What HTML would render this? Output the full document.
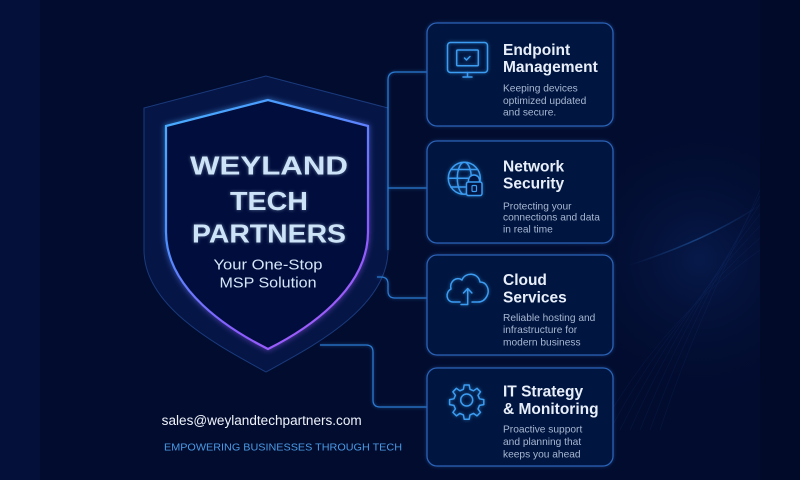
<!DOCTYPE html>
<html><head><meta charset="utf-8"><style>
html,body{margin:0;padding:0;background:#020b2e;}
svg{display:block;}
text{font-family:"Liberation Sans",Arial,sans-serif;}
</style></head><body>
<svg width="800" height="480" viewBox="0 0 800 480" xmlns="http://www.w3.org/2000/svg">
<defs>
  <filter id="glow" x="-30%" y="-30%" width="160%" height="160%">
    <feGaussianBlur stdDeviation="1.6" result="b"/>
    <feComponentTransfer in="b" result="b2"><feFuncA type="linear" slope="0.6"/></feComponentTransfer>
    <feMerge><feMergeNode in="b2"/><feMergeNode in="SourceGraphic"/></feMerge>
  </filter>
  <filter id="glowBig" x="-30%" y="-30%" width="160%" height="160%">
    <feGaussianBlur stdDeviation="3" result="b"/>
    <feComponentTransfer in="b" result="b2"><feFuncA type="linear" slope="0.8"/></feComponentTransfer>
    <feMerge><feMergeNode in="b2"/><feMergeNode in="SourceGraphic"/></feMerge>
  </filter>
  <filter id="tglow" x="-20%" y="-40%" width="140%" height="180%">
    <feGaussianBlur stdDeviation="1.8" result="b"/>
    <feComponentTransfer in="b" result="b2"><feFuncA type="linear" slope="0.45"/></feComponentTransfer>
    <feMerge><feMergeNode in="b2"/><feMergeNode in="SourceGraphic"/></feMerge>
  </filter>
  <linearGradient id="shg" x1="166" y1="100" x2="368" y2="349" gradientUnits="userSpaceOnUse">
    <stop offset="0" stop-color="#46b0ff"/>
    <stop offset="0.35" stop-color="#4f8fff"/>
    <stop offset="0.7" stop-color="#8a5cff"/>
    <stop offset="1" stop-color="#b05cf5"/>
  </linearGradient>
  <radialGradient id="wave" cx="700" cy="260" r="150" gradientUnits="userSpaceOnUse">
    <stop offset="0" stop-color="#0a2560" stop-opacity="0.55"/>
    <stop offset="1" stop-color="#020b2e" stop-opacity="0"/>
  </radialGradient>
  <linearGradient id="streak" x1="630" y1="270" x2="760" y2="200" gradientUnits="userSpaceOnUse">
    <stop offset="0" stop-color="#2a78d8" stop-opacity="0"/>
    <stop offset="0.5" stop-color="#3a8ef0" stop-opacity="0.35"/>
    <stop offset="1" stop-color="#2a78d8" stop-opacity="0"/>
  </linearGradient>
</defs>

<!-- background -->
<rect x="0" y="0" width="800" height="480" fill="#020c2f"/>
<rect x="0" y="0" width="40" height="480" fill="#041039"/>
<rect x="760" y="0" width="40" height="480" fill="#020a2a"/>
<rect x="560" y="120" width="200" height="300" fill="url(#wave)"/>
<g fill="none" stroke="#1d4c9c" stroke-width="0.5" opacity="0.22">
  <path d="M600 430 C640 360 690 300 760 250"/>
  <path d="M610 430 C650 355 700 290 760 238"/>
  <path d="M620 430 C660 350 705 282 760 226"/>
  <path d="M630 430 C668 345 712 275 760 214"/>
  <path d="M640 430 C676 340 718 268 760 204"/>
  <path d="M650 430 C684 336 724 262 760 196"/>
  <path d="M660 430 C692 332 730 258 760 190"/>
</g>
<path d="M630 265 C670 252 720 232 760 205" fill="none" stroke="url(#streak)" stroke-width="1.5"/>

<!-- outer shield -->
<path d="M266 76 L144 108 L144 250 C144 310 227 350 266 372 C305 350 388 310 388 250 L388 108 Z" fill="#051546" stroke="#1a3a7c" stroke-width="1"/>

<!-- connectors -->
<g fill="none" stroke="#2a7ad0" stroke-width="1.3" filter="url(#glow)">
  <path d="M388 250 L388 80 Q388 72 396 72 L427 72"/>
  <path d="M388 188 L427 188"/>
  <path d="M377 277 L381 277 Q388 277 388 284 L388 291 Q388 298 395 298 L427 298"/>
  <path d="M320 345 L366 345 Q373 345 373 352 L373 400 Q373 407 380 407 L427 407"/>
</g>

<!-- inner shield -->
<path d="M268 100 L166 126 L166 232 C166 290 230 330 268 349 C306 330 368 290 368 232 L368 126 Z" fill="#05113d" stroke="url(#shg)" stroke-width="2.2" filter="url(#glowBig)"/>

<!-- shield text -->
<g fill="#cde4f8" font-weight="bold" font-size="26" text-anchor="middle" filter="url(#tglow)">
  <text x="269" y="174.3" textLength="158" lengthAdjust="spacingAndGlyphs">WEYLAND</text>
  <text x="269" y="210" textLength="78" lengthAdjust="spacingAndGlyphs">TECH</text>
  <text x="269" y="242.7" textLength="154" lengthAdjust="spacingAndGlyphs">PARTNERS</text>
</g>
<g fill="#d6e6f8" font-size="15" text-anchor="middle">
  <text x="268" y="269.3" textLength="109" lengthAdjust="spacingAndGlyphs">Your One-Stop</text>
  <text x="268" y="287.3" textLength="97" lengthAdjust="spacingAndGlyphs">MSP Solution</text>
</g>

<!-- bottom left text -->
<text x="161.7" y="425" font-size="13.5" fill="#eef3fb" textLength="200" lengthAdjust="spacingAndGlyphs">sales@weylandtechpartners.com</text>
<text x="164" y="450.7" font-size="10" fill="#4a9be6" textLength="238" lengthAdjust="spacingAndGlyphs">EMPOWERING BUSINESSES THROUGH TECH</text>

<!-- cards -->
<g fill="#04133f" stroke="#2963b8" stroke-width="1.3" filter="url(#glow)">
  <rect x="427" y="23" width="186" height="103" rx="10"/>
  <rect x="427" y="141" width="186" height="102" rx="10"/>
  <rect x="427" y="255" width="186" height="100" rx="10"/>
  <rect x="427" y="368" width="186" height="98" rx="10"/>
</g>

<!-- icons -->
<g fill="none" stroke="#3a9cf2" stroke-width="1.5" stroke-linecap="round" stroke-linejoin="round" filter="url(#glow)">
  <!-- monitor -->
  <rect x="447.5" y="42.5" width="40" height="30" rx="3"/>
  <rect x="456.7" y="50" width="21.6" height="15.7" rx="1"/>
  <path d="M464.5 58 L466.5 60 L470 56.5"/>
  <path d="M467.5 72.5 L467.5 77 M463 77 L472 77"/>
  <!-- globe -->
  <circle cx="464.3" cy="178.3" r="16"/>
  <ellipse cx="464.3" cy="178.3" rx="7" ry="16"/>
  <path d="M448.3 178.3 L480.3 178.3 M451 169.5 L477.6 169.5 M451 187 L466 187"/>
  <!-- cloud -->
  <path d="M460 302 L453 302 C446 302 445 292 451 289 C449 281 457 276 462 280 C465 272 478 272 480 282 C487 282 490 290 487 296 C485 300 482 302 478 302 L472 302"/>
  <path d="M467.7 304.5 L467.7 289 M463.5 293 L467.7 288.5 L471.9 293 M461 304.5 L467.7 304.5"/>
  <!-- gear -->
  <circle cx="466.7" cy="400" r="6"/>
  <path d="M464.2 385 L469.2 385 L470 389.3 L473.5 390.8 L477 388.3 L480.5 391.8 L478 395.3 L479.5 398.8 L483.8 399.6 L483.8 404.6 L479.5 405.4 L478 408.9 L480.5 412.4 L477 415.9 L473.5 413.4 L470 414.9 L469.2 419.2 L464.2 419.2 L463.4 414.9 L459.9 413.4 L456.4 415.9 L452.9 412.4 L455.4 408.9 L453.9 405.4 L449.6 404.6 L449.6 399.6 L453.9 398.8 L455.4 395.3 L452.9 391.8 L456.4 388.3 L459.9 390.8 L463.4 389.3 Z"/>
</g>
<!-- lock over globe -->
<g stroke="#3a9cf2" stroke-width="1.5" filter="url(#glow)">
  <path d="M468.5 183 L468.5 181 C468.5 173 479.5 173 479.5 181 L479.5 183" fill="#04133f"/>
  <rect x="466.5" y="182" width="15.5" height="13.5" rx="2" fill="#04133f"/>
  <rect x="472" y="185.5" width="4.5" height="6" rx="1" fill="none" stroke-width="1.2"/>
</g>

<!-- card titles -->
<g fill="#e8effa" font-weight="bold" font-size="15.5">
  <text x="503" y="55">Endpoint</text>
  <text x="503" y="72">Management</text>
  <text x="503" y="171.7">Network</text>
  <text x="503" y="188.3">Security</text>
  <text x="503" y="285">Cloud</text>
  <text x="503" y="302.3">Services</text>
  <text x="503" y="396.7">IT Strategy</text>
  <text x="503" y="414">&amp; Monitoring</text>
</g>
<!-- descriptions -->
<g fill="#a8b7d2" font-size="10.2">
  <text x="503" y="91.7">Keeping devices</text>
  <text x="503" y="104">optimized  updated</text>
  <text x="503" y="115.7">and secure.</text>
  <text x="503" y="209.3">Protecting your</text>
  <text x="503" y="220.7">connections and data</text>
  <text x="503" y="232.3">in real time</text>
  <text x="503" y="321">Reliable hosting and</text>
  <text x="503" y="333">infrastructure for</text>
  <text x="503" y="345.7">modern business</text>
  <text x="503" y="432.3">Proactive support</text>
  <text x="503" y="445">and planning that</text>
  <text x="503" y="457.3">keeps you ahead</text>
</g>
</svg>
</body></html>
